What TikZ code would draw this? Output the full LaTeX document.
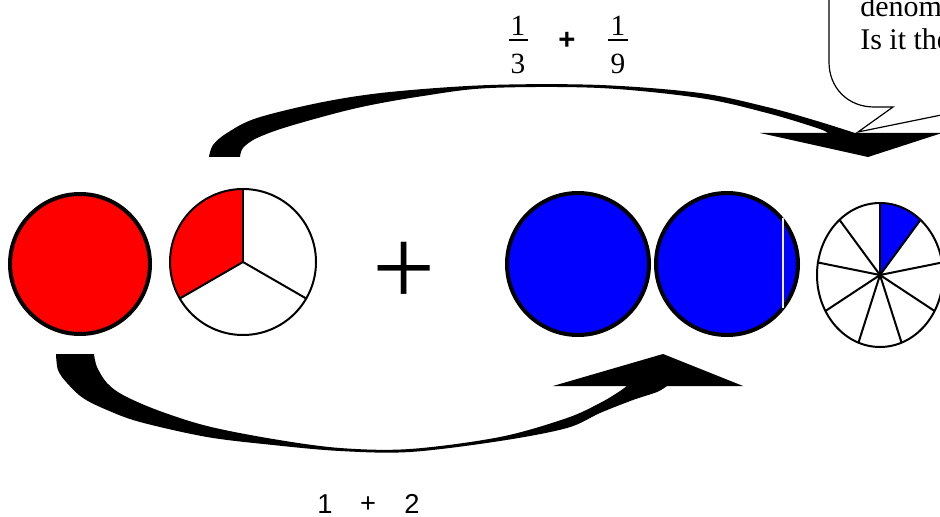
\documentclass[tikz,border=0pt]{standalone}
\usepackage{fontspec}
\setmainfont{Liberation Serif}
\newfontfamily\arialf{Liberation Sans}
\begin{document}
\begin{tikzpicture}[x=0.75pt,y=-0.75pt,
  thickring/.style={draw=black,line width=3pt},
  thinring/.style={draw=black,line width=1.5pt},
  spoke/.style={draw=black,line width=1.5pt},
  sertext/.style={inner sep=0pt,font=\fontsize{22}{25}\selectfont},
  bubtext/.style={inner sep=0pt,font=\fontsize{22.5}{25}\selectfont},
  santext/.style={inner sep=0pt,font=\arialf\fontsize{20.5}{24}\selectfont},
  fracbar/.style={draw=black,line width=0.8pt}]
\useasboundingbox (0,0) rectangle (940,517);
\begin{scope}
\clip (0,0) rectangle (940,517);
% speech bubble
\filldraw[fill=white,draw=black,line width=0.9pt]
  (829,-30) -- (829,62) .. controls (829,88) and (848,107) .. (874,107)
  -- (893,107) -- (858,132) -- (1010,101) -- (1010,-30) -- cycle;
\node[bubtext,anchor=base west] (bt1) at (860,17) {denom};
\node[bubtext,anchor=base west] (bt2) at (860,50) {Is it the};
% top curved arrow
\fill[black] plot[smooth,tension=0.55] coordinates {(209,157) (213,145) (227,133) (257,118) (323,102) (390,92) (490,85) (600,85) (700,93) (767,107) (817,121) (855,133)}
  -- (942,133) -- (868,157) -- (760,133) -- (828,133)
  -- plot[smooth,tension=0.55] coordinates {(828,133) (817,128) (767,113) (700,98) (600,88) (490,88) (423,96) (357,108) (290,126) (257,138) (243,148) (240,157)}
  -- cycle;
% bottom curved arrow
\fill[black] plot[smooth,tension=0.55] coordinates {(56,354) (58,370) (67,383) (83,398) (107,410) (140,422) (207,437) (273,445) (340,451) (410,452) (500,441) (567,428) (600,413) (633,400) (657,392) (667,386)}
  -- (743,386) -- (663,354) -- (553,386) -- (627,386)
  -- plot[smooth,tension=0.55] coordinates {(627,386) (617,393) (600,403) (567,418) (500,437) (410,449) (340,448) (273,439) (207,426) (157,410) (123,395) (107,383) (97,367) (94,354)}
  -- cycle;
% red whole
\filldraw[fill=red,thickring] (80,264) circle[radius=70];
% pie of thirds
\fill[white] (243,262) circle[radius=73];
\fill[red] (243,262) -- ++(-90:73) arc[start angle=-90,end angle=-210,radius=73] -- cycle;
\draw[spoke] (243,262) -- ++(-90:73);
\draw[spoke] (243,262) -- ++(-210:73);
\draw[spoke] (243,262) -- ++(-330:73);
\draw[thinring] (243,262) circle[radius=73];
% big plus
\node[inner sep=0pt,font=\fontsize{84}{84}\selectfont] (plus) at (404,274) {+};
% blue wholes
\filldraw[fill=blue,thickring] (578,264) circle[radius=71];
\filldraw[fill=blue,thickring] (727,264) circle[radius=71];
\draw[white!85!gray,line width=1.2pt] (783,218) -- (783,308);
% pie of ninths
\fill[white] (880,275) circle[x radius=63,y radius=72];
\fill[blue] (880,275) -- ++(0,-72) arc[start angle=-90,end angle=-50,x radius=63,y radius=72] -- cycle;
\foreach \a in {90,50,10,-30,-70,-110,-150,170,130}
  \draw[spoke] (880,275) -- ++({63*cos(\a)},{-72*sin(\a)});
\draw[thinring] (880,275) circle[x radius=63,y radius=72];
\end{scope}
% top fractions
\node[sertext,anchor=base] (n1) at (518,36) {1};
\node[sertext,anchor=base] (d1) at (518,74) {3};
\draw[fracbar] (509,40) -- (528,40);
\node[inner sep=0pt,font=\arialf\bfseries\fontsize{22}{24}\selectfont] (fp) at (567,41) {+};
\node[sertext,anchor=base] (n2) at (618,36) {1};
\node[sertext,anchor=base] (d2) at (618,74) {9};
\draw[fracbar] (608,40) -- (628,40);
% bottom sum
\node[santext,anchor=base] (s1) at (325,513) {1};
\node[santext] (sp) at (368,505) {+};
\node[santext,anchor=base] (s2) at (412,513) {2};
\end{tikzpicture}
\end{document}
